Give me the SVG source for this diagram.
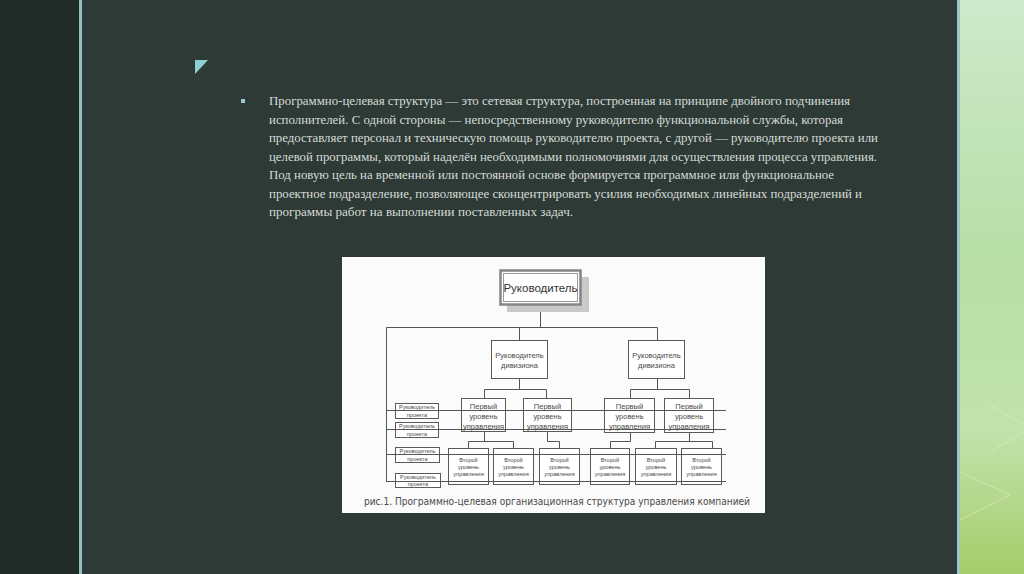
<svg xmlns="http://www.w3.org/2000/svg" width="1024" height="574" viewBox="0 0 1024 574">
<defs>
<linearGradient id="green" x1="0" y1="0" x2="0" y2="1">
<stop offset="0" stop-color="#cfe9cc"/>
<stop offset="0.45" stop-color="#b7dea6"/>
<stop offset="0.75" stop-color="#c2e2ac"/>
<stop offset="1" stop-color="#a6cd6a"/>
</linearGradient>
<style>
.para{font-family:"Liberation Serif","DejaVu Serif",serif;font-size:12.5px;fill:#d6dbd7}
.box{fill:#ffffff;stroke:#5a5a5a;stroke-width:1}
.t8{font-family:"Liberation Sans","DejaVu Sans",sans-serif;font-size:7.5px;fill:#4a4a4a;text-anchor:middle}
.t6{font-family:"Liberation Sans","DejaVu Sans",sans-serif;font-size:5.6px;fill:#4a4a4a;text-anchor:middle}
.ln{fill:none;stroke:#555555;stroke-width:1}
</style>
</defs>
<!-- slide background -->
<rect x="0" y="0" width="1024" height="574" fill="#2d3a35"/>
<rect x="0" y="0" width="79" height="574" fill="#202b27"/>
<rect x="79" y="0" width="3" height="574" fill="#8fbfbf"/>
<rect x="957" y="0" width="3" height="574" fill="#9cc7c6"/>
<rect x="960" y="0" width="64" height="574" fill="url(#green)"/>
<g fill="none" stroke="#dff0c8" stroke-width="1" opacity="0.6">
<polyline points="990,405 1024,425"/>
<polyline points="990,452 1024,432"/>
<polyline points="960,472 1010,495 960,520"/>
</g>
<polygon points="195,60 208,60 195,74" fill="#8fcfcf"/>
<rect x="241" y="99" width="4" height="4" fill="#9cc9c9"/>
<!-- paragraph -->
<g id="paragraph">
<text class="para" x="269" y="105" textLength="581" lengthAdjust="spacingAndGlyphs">Программно-целевая структура — это сетевая структура, построенная на принципе двойного подчинения</text>
<text class="para" x="269" y="123.5" textLength="574" lengthAdjust="spacingAndGlyphs">исполнителей. С одной стороны — непосредственному руководителю функциональной службы, которая</text>
<text class="para" x="269" y="142" textLength="609" lengthAdjust="spacingAndGlyphs">предоставляет персонал и техническую помощь руководителю проекта, с другой — руководителю проекта или</text>
<text class="para" x="269" y="160.5" textLength="608" lengthAdjust="spacingAndGlyphs">целевой программы, который наделён необходимыми полномочиями для осуществления процесса управления.</text>
<text class="para" x="269" y="179" textLength="565" lengthAdjust="spacingAndGlyphs">Под новую цель на временной или постоянной основе формируется программное или функциональное</text>
<text class="para" x="269" y="197.5" textLength="593" lengthAdjust="spacingAndGlyphs">проектное подразделение, позволяющее сконцентрировать усилия необходимых линейных подразделений и</text>
<text class="para" x="269" y="216" textLength="304" lengthAdjust="spacingAndGlyphs">программы работ на выполнении поставленных задач.</text>
</g>
<!-- chart panel -->
<rect x="342" y="257" width="423" height="256" fill="#fbfbfb"/>
<!-- nodes -->
<g id="head">
<rect x="507" y="277" width="82" height="35" fill="#c9c9c9"/>
<rect x="500.5" y="270.5" width="80" height="34" fill="#ffffff" stroke="#858585" stroke-width="2.5"/>
<rect x="503.5" y="273.5" width="74" height="28" fill="none" stroke="#999999" stroke-width="1"/>
<text x="540.5" y="291.5" font-family="Liberation Sans, DejaVu Sans, sans-serif" font-size="11.5" fill="#333333" text-anchor="middle">Руководитель</text>
</g>
<g id="div1">
<rect class="box" x="491.5" y="340.5" width="56" height="38"/>
<text class="t8" x="519.5" y="358">Руководитель</text>
<text class="t8" x="519.5" y="368">дивизиона</text>
</g>
<g id="div2">
<rect class="box" x="628.5" y="340.5" width="56" height="38"/>
<text class="t8" x="656.5" y="358">Руководитель</text>
<text class="t8" x="656.5" y="368">дивизиона</text>
</g>
<g id="l1a">
<rect class="box" x="461.5" y="398.5" width="44" height="33"/>
<text class="t8" x="483.5" y="409">Первый</text>
<text class="t8" x="483.5" y="419">уровень</text>
<text class="t8" x="483.5" y="428.5">управления</text>
</g>
<g id="l1b">
<rect class="box" x="523.5" y="398.5" width="48" height="33"/>
<text class="t8" x="547.5" y="409">Первый</text>
<text class="t8" x="547.5" y="419">уровень</text>
<text class="t8" x="547.5" y="428.5">управления</text>
</g>
<g id="l1c">
<rect class="box" x="604.5" y="398.5" width="50" height="34"/>
<text class="t8" x="629.5" y="409">Первый</text>
<text class="t8" x="629.5" y="419">уровень</text>
<text class="t8" x="629.5" y="428.5">управления</text>
</g>
<g id="l1d">
<rect class="box" x="664.5" y="398.5" width="49" height="34"/>
<text class="t8" x="689" y="409">Первый</text>
<text class="t8" x="689" y="419">уровень</text>
<text class="t8" x="689" y="428.5">управления</text>
</g>
<g id="p1">
<rect class="box" x="395.5" y="403.5" width="43" height="15"/>
<text class="t6" x="417" y="409">Руководитель</text>
<text class="t6" x="417" y="416.5">проекта</text>
</g>
<g id="p2">
<rect class="box" x="395.5" y="422.5" width="43" height="15"/>
<text class="t6" x="417" y="428">Руководитель</text>
<text class="t6" x="417" y="435.5">проекта</text>
</g>
<g id="p3">
<rect class="box" x="395.5" y="447.5" width="44" height="15"/>
<text class="t6" x="417.5" y="453">Руководитель</text>
<text class="t6" x="417.5" y="460.5">проекта</text>
</g>
<g id="p4">
<rect class="box" x="395.5" y="473.5" width="45" height="14"/>
<text class="t6" x="418" y="479">Руководитель</text>
<text class="t6" x="418" y="486">проекта</text>
</g>
<g id="l2a">
<rect class="box" x="448.5" y="448.5" width="40" height="36"/>
<text class="t6" x="468.5" y="462">Второй</text>
<text class="t6" x="468.5" y="469">уровень</text>
<text class="t6" x="468.5" y="476">управления</text>
</g>
<g id="l2b">
<rect class="box" x="493.5" y="448.5" width="40" height="36"/>
<text class="t6" x="513.5" y="462">Второй</text>
<text class="t6" x="513.5" y="469">уровень</text>
<text class="t6" x="513.5" y="476">управления</text>
</g>
<g id="l2c">
<rect class="box" x="539.5" y="448.5" width="40" height="36"/>
<text class="t6" x="559.5" y="462">Второй</text>
<text class="t6" x="559.5" y="469">уровень</text>
<text class="t6" x="559.5" y="476">управления</text>
</g>
<g id="l2d">
<rect class="box" x="590.5" y="448.5" width="39" height="36"/>
<text class="t6" x="610" y="462">Второй</text>
<text class="t6" x="610" y="469">уровень</text>
<text class="t6" x="610" y="476">управления</text>
</g>
<g id="l2e">
<rect class="box" x="635.5" y="448.5" width="41" height="36"/>
<text class="t6" x="656" y="462">Второй</text>
<text class="t6" x="656" y="469">уровень</text>
<text class="t6" x="656" y="476">управления</text>
</g>
<g id="l2f">
<rect class="box" x="681.5" y="448.5" width="40" height="36"/>
<text class="t6" x="701.5" y="462">Второй</text>
<text class="t6" x="701.5" y="469">уровень</text>
<text class="t6" x="701.5" y="476">управления</text>
</g>
<!-- connectors -->
<g id="connectors" class="ln">
<polyline class="ln" points="540.5,312 540.5,327.5"/>
<polyline class="ln" points="386.5,481.5 386.5,327.5 657.5,327.5 657.5,340"/>
<polyline class="ln" points="519.5,327.5 519.5,340"/>
<polyline class="ln" points="519.5,379 519.5,389.5"/>
<polyline class="ln" points="484.5,398 484.5,389.5 546.5,389.5 546.5,398"/>
<polyline class="ln" points="657.5,379 657.5,389.5"/>
<polyline class="ln" points="630.5,398 630.5,389.5 689.5,389.5 689.5,398"/>
<polyline class="ln" points="484.5,432 484.5,441.5"/>
<polyline class="ln" points="468.5,448 468.5,441.5 513.5,441.5 513.5,448"/>
<polyline class="ln" points="547.5,432 547.5,441.5 559.5,441.5 559.5,448"/>
<polyline class="ln" points="630.5,433 630.5,441.5 610.5,441.5 610.5,448"/>
<polyline class="ln" points="689.5,433 689.5,441.5"/>
<polyline class="ln" points="655.5,448 655.5,441.5 712.5,441.5 712.5,448"/>
<line class="ln" x1="386" y1="410.5" x2="726" y2="410.5"/>
<line class="ln" x1="386" y1="429.5" x2="726" y2="429.5"/>
<line class="ln" x1="386" y1="454.5" x2="726" y2="454.5"/>
<line class="ln" x1="386" y1="481.5" x2="726" y2="481.5"/>
</g>
<text x="364" y="505" font-family="DejaVu Sans, Verdana, sans-serif" font-size="10" fill="#4a4a4a" textLength="386" lengthAdjust="spacingAndGlyphs">рис.1. Программно-целевая организационная структура управления компанией</text>
</svg>
